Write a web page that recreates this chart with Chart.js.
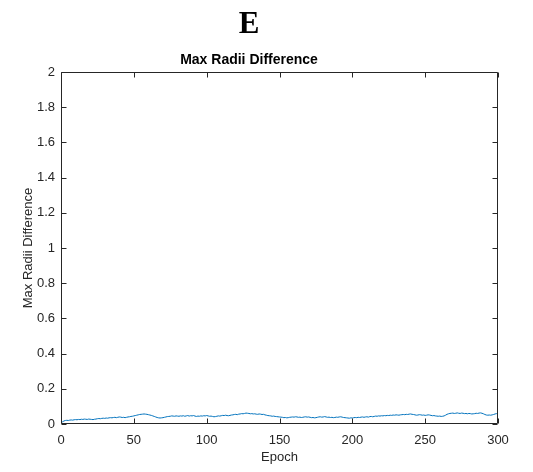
<!DOCTYPE html>
<html>
<head>
<meta charset="utf-8">
<script src="https://cdn.jsdelivr.net/npm/chart.js@4/dist/chart.umd.min.js"></script>
<style>
html,body{margin:0;padding:0;background:#fff;}
#wrap{width:533px;height:472px;position:relative;}
</style>
</head>
<body>
<div id="wrap"><canvas id="c" width="533" height="472"></canvas></div>
<script>
const panelLabel = "E";
const chartTitle = "Max Radii Difference";
const xAxisTitle = "Epoch";
const yAxisTitle = "Max Radii Difference";
const xTicks = [0, 50, 100, 150, 200, 250, 300];
const yTicks = [0, 0.2, 0.4, 0.6, 0.8, 1, 1.2, 1.4, 1.6, 1.8, 2];

const maxRadiiDiff = [
0.006,0.012,0.017,0.020,0.021,0.020,0.022,0.023,0.022,0.024,
0.025,0.024,0.026,0.025,0.027,0.026,0.028,0.027,0.026,0.028,
0.027,0.026,0.025,0.027,0.028,0.030,0.031,0.030,0.032,0.033,
0.032,0.034,0.033,0.035,0.036,0.035,0.037,0.038,0.036,0.038,
0.040,0.039,0.037,0.038,0.036,0.038,0.040,0.041,0.043,0.044,
0.046,0.048,0.050,0.052,0.054,0.055,0.056,0.057,0.056,0.055,
0.053,0.051,0.049,0.046,0.043,0.040,0.037,0.035,0.034,0.035,
0.036,0.038,0.040,0.042,0.043,0.044,0.046,0.045,0.044,0.046,
0.045,0.044,0.046,0.045,0.047,0.044,0.046,0.048,0.045,0.047,
0.046,0.048,0.045,0.043,0.045,0.044,0.046,0.045,0.047,0.046,
0.048,0.046,0.044,0.045,0.043,0.041,0.042,0.044,0.046,0.045,
0.047,0.049,0.048,0.050,0.048,0.047,0.049,0.051,0.052,0.054,
0.055,0.053,0.056,0.057,0.059,0.058,0.060,0.062,0.061,0.060,
0.058,0.059,0.057,0.058,0.056,0.055,0.057,0.056,0.054,0.055,
0.052,0.050,0.048,0.047,0.046,0.044,0.045,0.043,0.042,0.041,
0.040,0.039,0.038,0.036,0.037,0.035,0.036,0.038,0.039,0.040,
0.039,0.041,0.040,0.038,0.039,0.037,0.038,0.040,0.041,0.039,
0.040,0.038,0.036,0.037,0.035,0.036,0.038,0.040,0.041,0.039,
0.040,0.042,0.040,0.038,0.039,0.037,0.038,0.036,0.037,0.039,
0.038,0.040,0.041,0.039,0.037,0.036,0.035,0.034,0.033,0.035,
0.034,0.036,0.037,0.036,0.038,0.037,0.039,0.040,0.038,0.040,
0.041,0.039,0.042,0.043,0.041,0.043,0.045,0.044,0.046,0.045,
0.047,0.046,0.048,0.047,0.049,0.048,0.050,0.049,0.051,0.050,
0.052,0.051,0.050,0.052,0.053,0.054,0.053,0.055,0.054,0.056,
0.057,0.055,0.054,0.052,0.050,0.051,0.053,0.052,0.050,0.051,
0.049,0.050,0.052,0.051,0.049,0.047,0.048,0.046,0.045,0.044,
0.045,0.043,0.044,0.046,0.050,0.055,0.058,0.060,0.061,0.062,
0.060,0.061,0.063,0.061,0.060,0.062,0.061,0.059,0.060,0.058,
0.060,0.059,0.057,0.058,0.059,0.061,0.060,0.062,0.063,0.061,
0.058,0.054,0.051,0.050,0.051,0.050,0.052,0.054,0.057,0.059,
0.062
];
const epochs = maxRadiiDiff.map((_, i) => i);

const axisColor = '#262626';
const sansFont = "'Liberation Sans', Arial, Helvetica, sans-serif";

const boxTicks = {
  id: 'boxTicks',
  afterDraw(chart) {
    const {ctx, chartArea: a, scales: {x, y}} = chart;
    const L = 5;
    ctx.save();
    ctx.strokeStyle = axisColor;
    ctx.lineWidth = 1;
    ctx.beginPath();
    const l = Math.round(a.left) + 0.5, r = Math.round(a.right) - 0.5;
    const t = Math.round(a.top) + 0.5, b = Math.round(a.bottom) - 0.5;
    ctx.rect(l, t, r - l, b - t);
    xTicks.forEach(v => {
      const px = Math.round(x.getPixelForValue(v)) + 0.5;
      ctx.moveTo(px, b); ctx.lineTo(px, b - L);
      ctx.moveTo(px, t); ctx.lineTo(px, t + L);
    });
    yTicks.forEach(v => {
      const py = Math.round(y.getPixelForValue(v)) + 0.5;
      ctx.moveTo(l, py); ctx.lineTo(l + L, py);
      ctx.moveTo(r, py); ctx.lineTo(r - L, py);
    });
    ctx.stroke();
    ctx.restore();
  }
};

new Chart(document.getElementById('c'), {
  type: 'line',
  data: {
    labels: epochs,
    datasets: [{
      data: epochs.map((e, i) => ({x: e, y: maxRadiiDiff[i]})),
      borderColor: '#0072BD',
      borderWidth: 1,
      pointRadius: 0,
      tension: 0,
      fill: false
    }]
  },
  options: {
    responsive: false,
    animation: false,
    devicePixelRatio: 1,
    layout: {padding: {left: 0, right: 35, top: 0, bottom: 0}},
    plugins: {
      legend: {display: false},
      tooltip: {enabled: false},
      title: {
        display: true,
        text: panelLabel,
        color: '#000',
        font: {family: "'Liberation Serif', 'Times New Roman', serif", size: 31, weight: 'bold'},
        padding: {top: 6, bottom: 3},
        align: 'center'
      },
      subtitle: {
        display: true,
        text: chartTitle,
        color: '#000',
        font: {family: sansFont, size: 14, weight: 'bold'},
        padding: {top: 6, bottom: 3}
      }
    },
    scales: {
      x: {
        type: 'linear',
        min: 0, max: 300,
        afterFit(s) { s.height = 48; },
        afterBuildTicks(s) { s.ticks = xTicks.map(v => ({value: v})); },
        grid: {display: false, drawTicks: false},
        border: {display: false},
        ticks: {color: axisColor, font: {family: sansFont, size: 13}, padding: 9, maxRotation: 0,
                callback: v => String(v)},
        title: {display: true, text: xAxisTitle, color: axisColor, font: {family: sansFont, size: 13}, padding: {top: 0, bottom: 7}}
      },
      y: {
        type: 'linear',
        min: 0, max: 2,
        afterFit(s) { s.width = 61; },
        afterBuildTicks(s) { s.ticks = yTicks.map(v => ({value: v})); },
        grid: {display: false, drawTicks: false},
        border: {display: false},
        ticks: {color: axisColor, font: {family: sansFont, size: 13}, padding: 6,
                callback: v => String(Math.round(v * 10) / 10)},
        title: {display: true, text: yAxisTitle, color: axisColor, font: {family: sansFont, size: 13}, padding: {top: 21, bottom: 0}}
      }
    }
  },
  plugins: [boxTicks]
});
</script>
</body>
</html>
